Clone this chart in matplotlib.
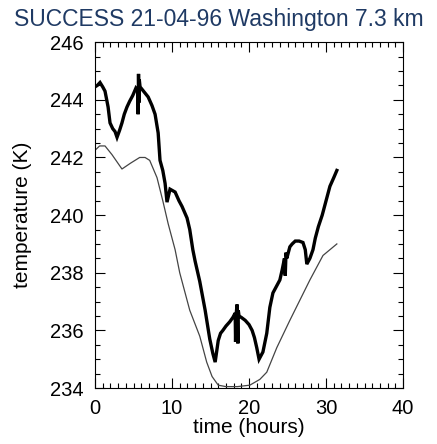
import numpy as np
import matplotlib.pyplot as plt
from matplotlib.ticker import MultipleLocator

plt.rcParams['font.family'] = ['Liberation Sans', 'DejaVu Sans']

# measured temperature (thick trace), including the sharp excursions
t_meas = [0.0, 0.3, 0.65, 1.0, 1.3, 1.7, 1.95, 2.3, 2.6, 2.86, 3.2, 3.5, 3.8,
          4.15, 4.5, 4.9, 5.3, 5.55, 5.6, 5.65, 5.7, 5.75, 5.85, 6.3, 6.9, 7.4,
          7.8, 8.2, 8.44, 8.8, 9.1, 9.35, 9.74, 10.4, 10.9, 11.3, 11.95, 12.3,
          12.7, 13.0, 13.6, 14.3, 14.9, 15.3, 15.6, 16.0, 16.3, 16.6, 17.0, 17.5,
          17.9, 18.2, 18.25, 18.3, 18.45, 18.55, 18.6, 18.7, 19.0, 19.5, 20.0,
          20.4, 20.7, 21.0, 21.3, 21.8, 22.3, 22.7, 23.1, 23.6, 24.0, 24.3, 24.6,
          24.7, 24.8, 24.9, 25.3, 25.6, 26.0, 26.5, 27.0, 27.3, 27.5, 27.9, 28.3,
          28.6, 29.0, 29.5, 29.9, 30.2, 30.5, 31.0, 31.4]
T_meas = [244.45, 244.5, 244.6, 244.45, 244.3, 243.75, 243.2, 243.0, 242.9,
          242.7, 242.95, 243.2, 243.5, 243.75, 243.95, 244.15, 244.4, 244.3,
          243.5, 244.9, 243.9, 244.7, 244.45, 244.3, 244.1, 243.8, 243.5, 242.85,
          241.9, 241.55, 241.1, 240.45, 240.9, 240.8, 240.5, 240.3, 239.9, 239.5,
          238.8, 238.4, 237.7, 236.7, 235.7, 235.2, 234.9, 235.65, 235.9, 236.0,
          236.15, 236.3, 236.45, 236.6, 235.6, 236.5, 236.9, 235.55, 236.7,
          236.5, 236.45, 236.35, 236.2, 236.0, 235.75, 235.4, 235.0, 235.25,
          235.9, 236.8, 237.3, 237.55, 237.75, 238.1, 238.5, 237.9, 238.7, 238.5,
          238.9, 239.0, 239.1, 239.1, 239.05, 238.8, 238.3, 238.5, 238.8, 239.2,
          239.6, 240.0, 240.4, 240.7, 241.0, 241.3, 241.55]

# model temperature (thin trace)
t_mod = [0.0, 0.6, 1.3, 2.2, 3.5, 4.6, 5.8, 6.5, 7.1, 8.05, 8.8, 9.5, 10.4,
         11.0, 12.3, 13.6, 14.5, 15.2, 16.0, 17.0, 18.5, 20.1, 21.4, 22.3, 23.6,
         25.3, 27.9, 29.6, 31.4]
T_mod = [242.25, 242.4, 242.4, 242.1, 241.6, 241.8, 242.0, 242.0, 241.9, 241.3,
         240.5, 239.7, 238.8, 238.0, 236.7, 235.8, 234.9, 234.4, 234.1, 234.05,
         234.05, 234.1, 234.3, 234.55, 235.4, 236.35, 237.75, 238.6, 239.0]

fig = plt.figure(figsize=(4.37, 4.44), dpi=100)
ax = fig.add_axes([0.2174, 0.126, 0.705, 0.779])

ax.plot(t_mod, T_mod, color='#444444', lw=0.9)
ax.plot(t_meas, T_meas, color='black', lw=2.4, solid_joinstyle='miter')

ax.set_xlim(0, 40)
ax.set_ylim(234, 246)
ax.xaxis.set_major_locator(MultipleLocator(10))
ax.xaxis.set_minor_locator(MultipleLocator(1))
ax.yaxis.set_major_locator(MultipleLocator(2))
ax.yaxis.set_minor_locator(MultipleLocator(0.5))
ax.tick_params(which='both', direction='in', top=True, right=True, width=0.8)
ax.tick_params(which='major', length=7, labelsize=14.5, pad=8)
ax.tick_params(which='minor', length=3.5)
for s in ax.spines.values():
    s.set_linewidth(0.8)

ax.set_xlabel('time (hours)', fontsize=15, labelpad=0)
ax.set_ylabel('temperature (K)', fontsize=15, labelpad=13)
fig.suptitle('SUCCESS 21-04-96 Washington 7.3 km', x=0.5, y=0.982,
             fontsize=16.5, color='#1f3a64')

fig.savefig('out.png', dpi=100)
